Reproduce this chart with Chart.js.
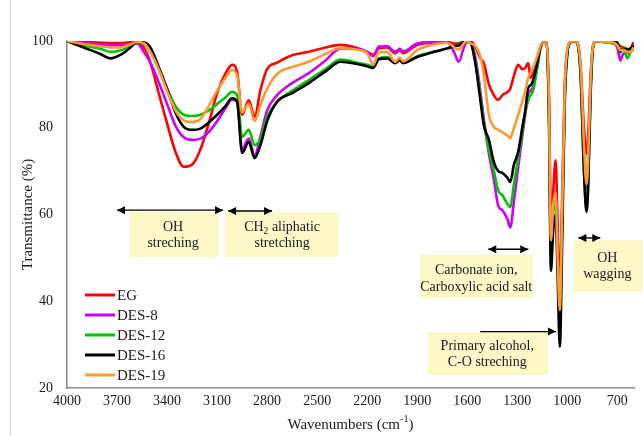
<!DOCTYPE html>
<html>
<head>
<meta charset="utf-8">
<script src="https://cdn.jsdelivr.net/npm/chart.js@4.4.1/dist/chart.umd.min.js"></script>
<style>
  html, body { margin: 0; padding: 0; background: #fff; }
  #wrap { width: 643px; height: 436px; }
</style>
</head>
<body>
<div id="wrap"><canvas id="ftir" width="643" height="436"></canvas></div>
<script>
// wavenumbers (cm-1)
const wavenumbers = [4000, 3900, 3800, 3740, 3680, 3620, 3580, 3540, 3500, 3450, 3400, 3350, 3300, 3250, 3200, 3150, 3100, 3050, 3010, 2980, 2950, 2910, 2875, 2840, 2800, 2740, 2650, 2550, 2450, 2360, 2260, 2200, 2164, 2130, 2080, 2032, 2005, 1984, 1900, 1800, 1720, 1680, 1650, 1620, 1600, 1580, 1550, 1520, 1500, 1470, 1440, 1414, 1390, 1360, 1342, 1320, 1294, 1270, 1252, 1234, 1220, 1204, 1180, 1160, 1140, 1125, 1110, 1098, 1085, 1070, 1058, 1045, 1030, 1015, 1000, 980, 960, 940, 920, 900, 885, 875, 860, 845, 825, 780, 730, 700, 682, 665, 640, 620, 604];

const eg = [100, 99.8, 99.6, 99.5, 99.5, 99.7, 99.5, 98.5, 95, 88, 81, 74.5, 71, 71.5, 75, 81, 88, 92.5, 94.5, 93, 83, 86.3, 82.5, 88.7, 93.5, 95, 96.7, 97.5, 98.5, 99.1, 98.4, 97.5, 96.8, 98.3, 98.5, 97.2, 97.9, 97.2, 99.1, 99.6, 99.8, 99.4, 99.5, 99.8, 100, 100, 98.5, 96, 94.8, 90, 87.5, 86.4, 87.5, 88.2, 89, 92, 94.5, 93.5, 93.8, 94.9, 91.5, 93, 96, 98.8, 99.7, 99.5, 88, 58, 65, 72.5, 58, 42, 65, 90, 98, 99.8, 100, 99.5, 94, 80, 74, 78, 92, 99, 100, 99.8, 99.6, 99.2, 98.8, 98.5, 98.2, 98, 99.7];
const des8 = [100, 99.5, 99.2, 99, 99, 99.3, 99.5, 97.5, 95, 90.5, 85.5, 80.5, 77.8, 77.2, 77.5, 79, 81.5, 84.5, 86.5, 86, 75, 77.5, 73.5, 78, 84, 87.5, 90.3, 92.6, 95.5, 98.3, 98.2, 97.5, 96.5, 98.7, 98.8, 97.5, 98.2, 97.6, 99.4, 99.8, 99.8, 97.5, 95.2, 98.5, 99.8, 99.5, 96, 88, 82, 74, 68, 62, 61, 59, 57, 63, 71, 78, 83, 88, 88.5, 89.5, 94, 98.5, 99.7, 99.5, 85, 52, 62, 65, 52, 38, 62, 88, 97.5, 99.8, 100, 99.7, 93, 74, 66, 72, 90, 99, 100, 99.8, 99.5, 98.5, 95.5, 97, 97.3, 97.5, 98.5];
const des12 = [100, 99, 98.2, 97.5, 97.8, 98.8, 99.7, 99.3, 97.5, 93.5, 89, 85, 83, 82.7, 83, 84, 85.5, 87, 88.3, 87.5, 77.9, 79.5, 76, 77.5, 82.5, 86, 88.5, 91, 93.5, 95.7, 95, 94.5, 94.2, 96, 96.3, 95, 95.8, 95, 96.5, 97.5, 98.3, 98.8, 99, 99.7, 99.8, 99.5, 95, 87, 81, 75, 70, 65.5, 64.5, 62.5, 61.7, 67, 73, 79, 83.5, 86.4, 87.5, 88.7, 94, 98.5, 99.7, 99.5, 84, 50, 60, 63, 50, 36, 60, 88, 97.5, 99.8, 100, 99.6, 92, 70, 61.5, 68, 89, 98.8, 100, 99.7, 99.5, 99.3, 97.5, 98.6, 96, 97.5, 98];
const des16 = [100, 98.5, 97, 96, 96.8, 98.5, 99.8, 99.7, 98.5, 94, 89, 83.5, 80.2, 79.5, 79.8, 81.2, 83, 85, 86.8, 86, 74.2, 76.7, 73, 76, 81.5, 86, 88, 90.3, 93, 95.2, 94.7, 94.2, 93.8, 95.8, 96, 94.9, 95.6, 94.9, 96.3, 97.5, 98.3, 98.8, 99, 99.8, 100, 99.7, 94.5, 86, 80.5, 77.2, 72, 70, 69.6, 68.5, 67.5, 71.5, 74.5, 80, 84, 89.2, 89.8, 91, 95, 98.7, 99.7, 99.5, 82, 47, 56, 60, 46, 29.5, 55, 86, 97, 99.7, 100, 99.5, 92, 70, 60.6, 66, 88, 98.8, 100, 100, 99.8, 99.6, 97.5, 98.2, 98, 98.3, 99];
const des19 = [100, 99.3, 98.8, 98.5, 98.5, 99.2, 99.8, 99.5, 97.5, 93.5, 88.5, 84, 81.7, 81.3, 82, 85, 88.5, 91.5, 93.3, 92, 83.5, 85.5, 81.5, 85.2, 89, 92.4, 94, 95.2, 97, 98.4, 98, 97.2, 94.5, 97.4, 97.5, 95.2, 96.2, 95.3, 97.9, 99.2, 99.6, 98.6, 98, 99.5, 100, 99.5, 98.8, 96.3, 92, 83, 80.2, 79.5, 79, 78.2, 77.6, 80, 83, 86, 88.5, 91.5, 92.6, 94, 96.5, 99, 99.7, 99.5, 86, 54, 62, 65, 50, 38, 62, 89, 98, 99.8, 100, 99.6, 94, 76, 67, 72, 91, 99, 100, 99.8, 99.7, 99, 97.8, 98, 97.5, 97.5, 98.5];

const seriesNames = ['EG', 'DES-8', 'DES-12', 'DES-16', 'DES-19'];
const xTicks = [4000, 3700, 3400, 3100, 2800, 2500, 2200, 1900, 1600, 1300, 1000, 700];

const colors = ['#ff0000', '#cc00ff', '#00c400', '#000000', '#ff9933'];
const zOrder = [4, 3, 2, 1, 0]; // DES-19 drawn on top
const FONT = "'Liberation Serif', 'Times New Roman', serif";

// annotation boxes, placed in data units (wavenumber, %T)
const notes = [
  { box: [3622, 3094, 60.6, 50.2], tx: 3364, lines: [[57.1, 'OH'], [53.4, 'streching']], arrow: [3700, 3064, 61.0, true] },
  { box: [3052, 2374, 60.6, 50.2], tx: 2710, lines: [[57.1, 'CH_{2} aliphatic'], [53.4, 'stretching']], arrow: [3034, 2770, 60.8, true] },
  { box: [1882, 1204, 50.7, 40.7], tx: 1546, lines: [[47.2, 'Carbonate ion,'], [43.3, 'Carboxylic acid salt']], arrow: [1474, 1234, 52.0, true] },
  { box: [964, 544, 54.1, 42.1], tx: 760, lines: [[50.0, 'OH'], [46.1, 'wagging']], arrow: [934, 802, 54.6, true] },
  { box: [1834, 1114, 32.9, 23.0], tx: 1480, lines: [[29.5, 'Primary alcohol,'], [26.0, 'C-O streching']], arrow: [1522, 1068, 33.0, false] }
];

const seriesValues = [eg, des8, des12, des16, des19];

// text with _{x} subscripts and ^{x} superscripts, centred on cx
function drawRich(ctx, str, cx, cy, size) {
  const parts = str.split(/([_^]\{[^}]*\})/).filter(Boolean).map((p) => {
    if (p[0] === '_') return { t: p.slice(2, -1), dy: size * 0.3, s: size * 0.68 };
    if (p[0] === '^') return { t: p.slice(2, -1), dy: -size * 0.35, s: size * 0.68 };
    return { t: p, dy: 0, s: size };
  });
  let total = 0;
  parts.forEach((p) => {
    ctx.font = p.s + 'px ' + FONT;
    p.w = ctx.measureText(p.t).width;
    total += p.w;
  });
  let x = cx - total / 2;
  ctx.textAlign = 'left';
  ctx.textBaseline = 'middle';
  parts.forEach((p) => {
    ctx.font = p.s + 'px ' + FONT;
    ctx.fillText(p.t, x, cy + p.dy);
    x += p.w;
  });
}

function arrowHead(ctx, x, y, dir) {
  ctx.beginPath();
  ctx.moveTo(x, y);
  ctx.lineTo(x - dir * 8, y - 4);
  ctx.lineTo(x - dir * 8, y + 4);
  ctx.closePath();
  ctx.fill();
}

const decor = {
  id: 'decor',
  afterDatasetsDraw(chart) {
    const { ctx, chartArea } = chart;
    const xs = chart.scales.x;
    const ys = chart.scales.y;
    ctx.save();

    // faint outer frame edge
    ctx.strokeStyle = '#d9d9d9';
    ctx.lineWidth = 1;
    ctx.beginPath();
    ctx.moveTo(10.5, 0);
    ctx.lineTo(10.5, 436);
    ctx.stroke();

    notes.forEach((n) => {
      const x0 = xs.getPixelForValue(n.box[0]);
      const x1 = xs.getPixelForValue(n.box[1]);
      const y0 = ys.getPixelForValue(n.box[2]);
      const y1 = ys.getPixelForValue(n.box[3]);
      ctx.fillStyle = '#fcf8c8';
      ctx.fillRect(x0, y0, x1 - x0, y1 - y0);

      ctx.fillStyle = '#1a1a1a';
      n.lines.forEach(([v, s]) => {
        drawRich(ctx, s, xs.getPixelForValue(n.tx), ys.getPixelForValue(v), 14);
      });

      const ax0 = xs.getPixelForValue(n.arrow[0]);
      const ax1 = xs.getPixelForValue(n.arrow[1]);
      const ay = ys.getPixelForValue(n.arrow[2]);
      ctx.strokeStyle = '#000';
      ctx.fillStyle = '#000';
      ctx.lineWidth = 1.4;
      ctx.beginPath();
      ctx.moveTo(ax0, ay);
      ctx.lineTo(ax1, ay);
      ctx.stroke();
      arrowHead(ctx, ax1, ay, 1);
      if (n.arrow[3]) arrowHead(ctx, ax0, ay, -1);
    });

    // legend, inside the plot at lower left
    chart.data.datasets.forEach((ds, i) => {
      const y = chartArea.bottom - 93 + i * 20;
      const x = chartArea.left + 18;
      ctx.strokeStyle = ds.borderColor;
      ctx.lineWidth = 3;
      ctx.beginPath();
      ctx.moveTo(x, y);
      ctx.lineTo(x + 30, y);
      ctx.stroke();
      ctx.fillStyle = '#1a1a1a';
      ctx.font = '15px ' + FONT;
      ctx.textAlign = 'left';
      ctx.textBaseline = 'middle';
      ctx.fillText(ds.label, x + 32, y + 1);
    });

    // x axis title with superscript
    ctx.fillStyle = '#1a1a1a';
    drawRich(ctx, 'Wavenumbers (cm^{-1})', (chartArea.left + chartArea.right) / 2, 425, 15);
    ctx.restore();
  }
};

new Chart(document.getElementById('ftir'), {
  type: 'line',
  data: {
    datasets: seriesNames.map((name, i) => ({
      label: name,
      data: wavenumbers.map((w, j) => ({ x: w, y: seriesValues[i][j] })),
      borderColor: colors[i],
      backgroundColor: colors[i],
      borderWidth: 2.6,
      pointRadius: 0,
      cubicInterpolationMode: 'monotone',
      fill: false,
      order: zOrder[i]
    }))
  },
  options: {
    responsive: false,
    animation: false,
    events: [],
    layout: { padding: { top: 41, right: 9, bottom: 0, left: 0 } },
    plugins: { legend: { display: false }, tooltip: { enabled: false } },
    scales: {
      x: {
        type: 'linear',
        reverse: true,
        min: 600,
        max: 4000,
        afterBuildTicks: (s) => { s.ticks = xTicks.map((v) => ({ value: v })); },
        afterFit: (s) => { s.height = 48; },
        grid: { display: false, drawTicks: false },
        border: { display: true, color: '#8c8c8c', width: 1.5 },
        ticks: { color: '#1a1a1a', font: { family: FONT, size: 14 }, padding: 5, maxRotation: 0, autoSkip: false, callback: (v) => String(v) }
      },
      y: {
        min: 20,
        max: 100,
        afterFit: (s) => { s.width = 67; },
        grid: { display: false, drawTicks: false },
        border: { display: true, color: '#8c8c8c', width: 1.5 },
        ticks: { stepSize: 20, color: '#1a1a1a', font: { family: FONT, size: 14 }, padding: 14, callback: (v) => String(v) },
        title: { display: true, text: 'Transmittance (%)', color: '#1a1a1a', font: { family: FONT, size: 15 }, padding: { top: 19, bottom: 0 } }
      }
    }
  },
  plugins: [decor]
});
</script>
</body>
</html>
